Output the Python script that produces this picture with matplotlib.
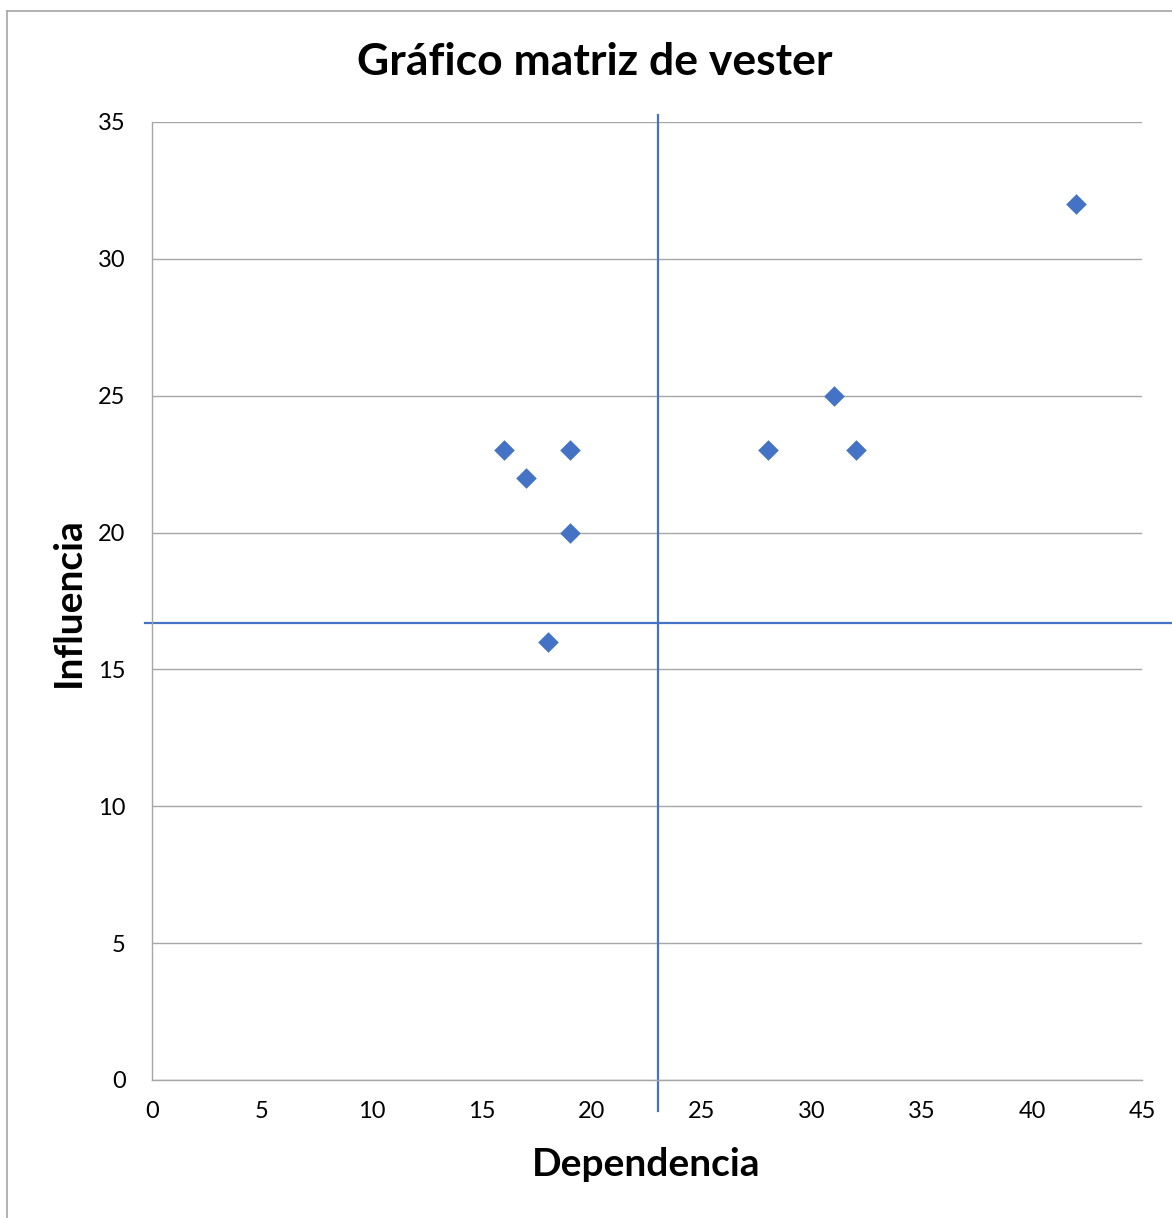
import matplotlib.pyplot as plt
from matplotlib.lines import Line2D

plt.rcParams['font.family'] = ['Lato', 'DejaVu Sans']

dependencia = [16, 17, 19, 19, 18, 28, 31, 32, 42]
influencia = [23, 22, 23, 20, 16, 23, 25, 23, 32]

x_ticks = list(range(0, 46, 5))
y_ticks = list(range(0, 36, 5))

# quadrant dividers
corte_x = 23
corte_y = 16.7
vline_span = [-1.15, 35.25]
hline_span = [-0.32, 46.4]

azul = '#4472C4'
gris = '#A6A6A6'

fig = plt.figure(figsize=(11.72, 12.18), dpi=100)
ax = fig.add_axes([152 / 1172, 1 - 1080 / 1218, 990 / 1172, 958 / 1218])

ax.scatter(dependencia, influencia, marker='D', s=110, color=azul, zorder=3, linewidths=0)

ax.plot([corte_x, corte_x], vline_span, color=azul, lw=1.6, clip_on=False, zorder=2)
ax.plot(hline_span, [corte_y, corte_y], color=azul, lw=1.6, clip_on=False, zorder=2)

ax.set_xlim(0, 45)
ax.set_ylim(0, 35)
ax.set_xticks(x_ticks)
ax.set_yticks(y_ticks)
ax.tick_params(length=0, labelsize=17)
ax.tick_params(axis='x', pad=15)
ax.tick_params(axis='y', pad=19)
ax.grid(axis='y', color=gris, lw=1)
ax.set_axisbelow(True)
for s in ['top', 'right']:
    ax.spines[s].set_visible(False)
for s in ['left', 'bottom']:
    ax.spines[s].set_color(gris)
    ax.spines[s].set_linewidth(1)

fig.text(595 / 1172, 1 - 62 / 1218, 'Gráfico matriz de vester', ha='center', va='center',
         fontsize=32, fontweight='bold')
fig.text(646 / 1172, 1 - 1165 / 1218, 'Dependencia', ha='center', va='center',
         fontsize=28, fontweight='bold')
fig.text(68 / 1172, 1 - 602 / 1218, 'Influencia', ha='center', va='center',
         fontsize=28, fontweight='bold', rotation=90)

# chart area border (left and top only visible)
fig.add_artist(Line2D([6.5 / 1172, 6.5 / 1172], [0, 1 - 10.5 / 1218], color=gris, lw=1.2))
fig.add_artist(Line2D([6.5 / 1172, 1], [1 - 10.5 / 1218, 1 - 10.5 / 1218], color=gris, lw=1.2))

fig.savefig('out.png', dpi=100)
